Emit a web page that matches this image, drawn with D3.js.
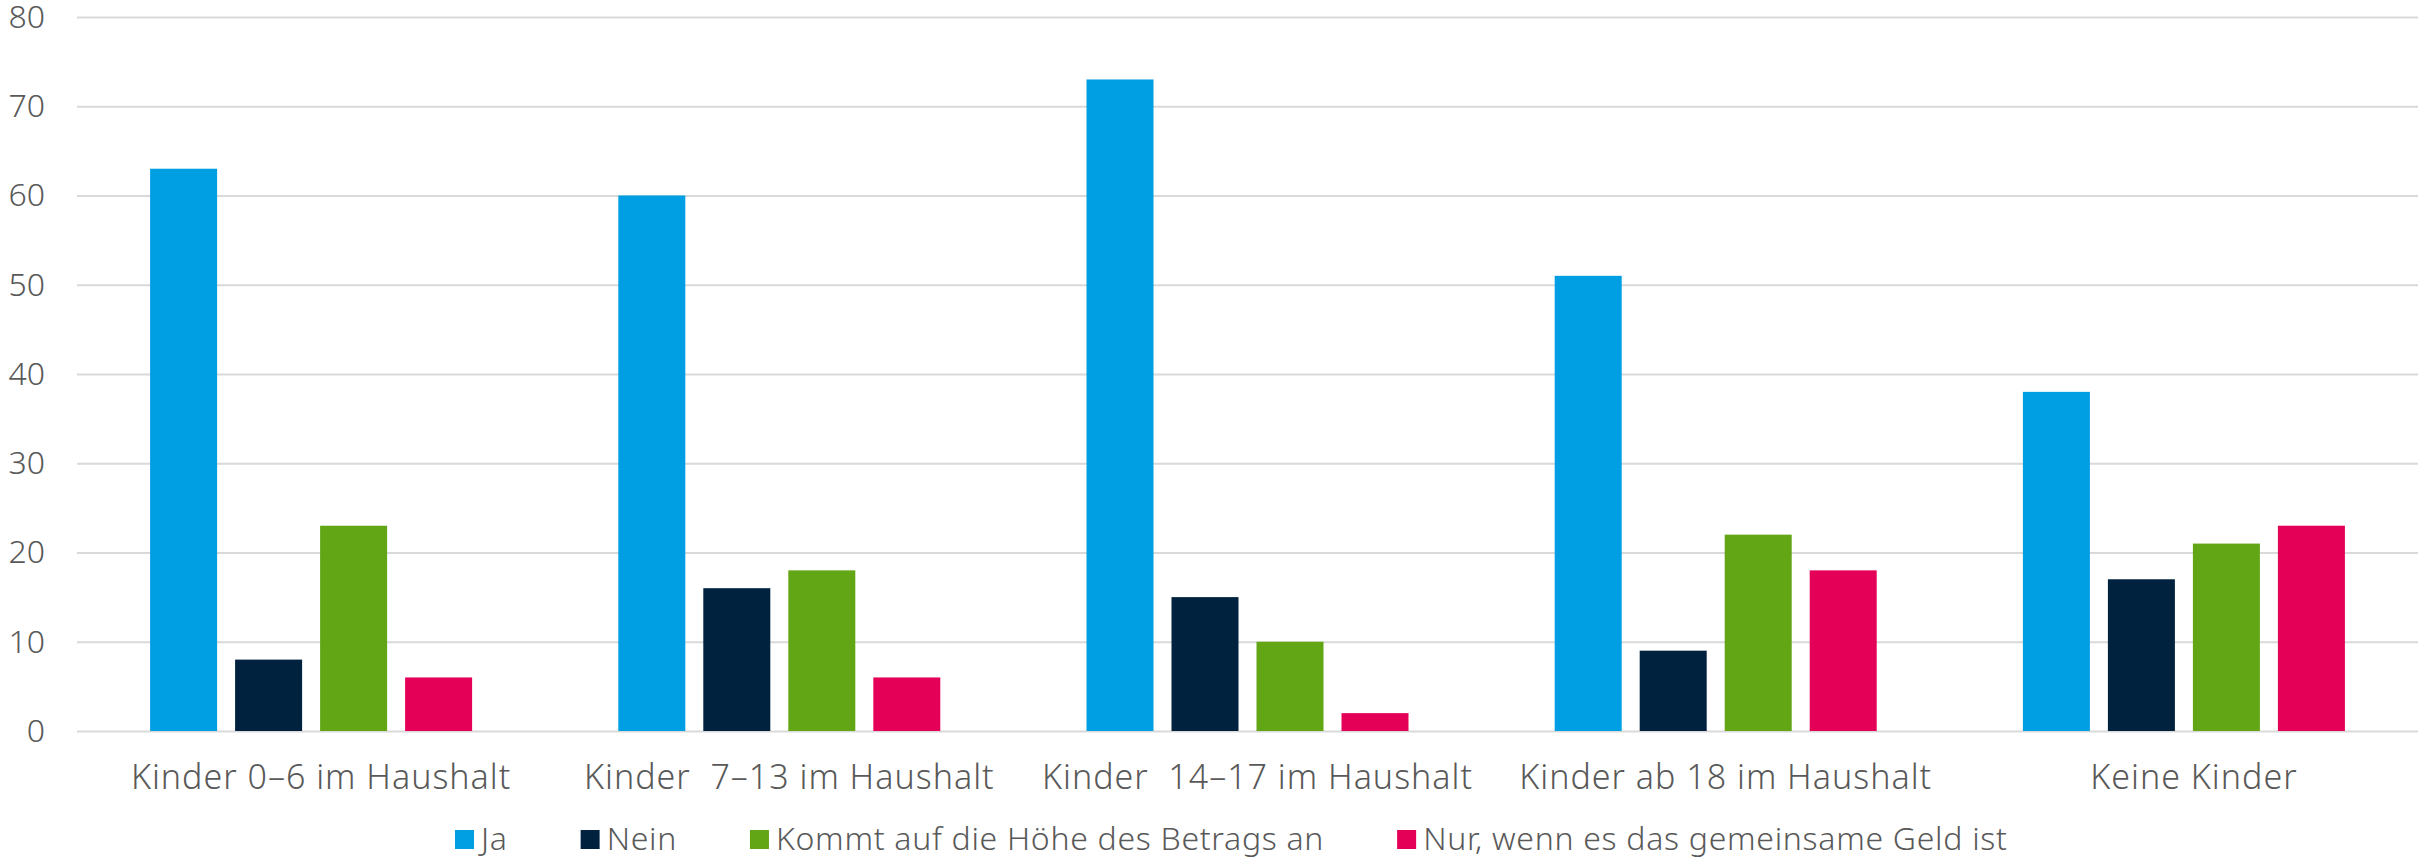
<!DOCTYPE html>
<html>
<head>
<meta charset="utf-8">
<style>
  body { margin: 0; background: #fff; }
  svg text { font-family: "Noto Sans", Lato, sans-serif; font-weight: 300; fill: #595959; }
  .grid path { display: none; }
  .grid line { stroke: #d9d9d9; stroke-width: 2; }
  .xaxis path, .xaxis line { display: none; }
</style>
</head>
<body>
<div class="chart"></div>
<script src="https://d3js.org/d3.v7.min.js"></script>
<script>
  // data
  const categories = ["Kinder 0–6 im Haushalt", "Kinder  7–13 im Haushalt", "Kinder  14–17 im Haushalt", "Kinder ab 18 im Haushalt", "Keine Kinder"];
  const series = ["Ja", "Nein", "Kommt auf die Höhe des Betrags an", "Nur, wenn es das gemeinsame Geld ist"];
  const ja = [63, 60, 73, 51, 38];
  const nein = [8, 16, 15, 9, 17];
  const kommtDrauf = [23, 18, 10, 22, 21];
  const nurGemeinsam = [6, 6, 2, 18, 23];
  const yTicks = [0, 10, 20, 30, 40, 50, 60, 70, 80];
  const colors = ["#009fe3", "#00223f", "#63a615", "#e40056"];

  const values = [ja, nein, kommtDrauf, nurGemeinsam];

  function drawChart(){
    let width = 2418,
        height = 859,
        left = 77,
        top = 17,
        bottom = 731;

    const svg = d3.select(".chart")
                  .append("svg")
                  .attr("width", width)
                  .attr("height", height);

    const y = d3.scaleLinear()
                .domain([0, 80])
                .range([bottom, top]);

    // 類別
    const x0 = d3.scaleBand()
                 .domain(categories)
                 .range([left, width]);

    const groupWidth = 322;
    const x1 = d3.scaleBand()
                 .domain(series)
                 .range([0, groupWidth])
                 .paddingInner(18 / 85);

    // 格線 + Y 軸
    const yAxis = d3.axisLeft(y)
                    .tickValues(yTicks)
                    .tickSize(-(width - left))
                    .tickPadding(32);

    svg.append("g")
       .attr("class", "grid")
       .attr("transform", `translate(${left},0)`)
       .call(yAxis)
       .selectAll("text")
       .style("font-size", "32px");

    // bars
    const groups = svg.append("g")
                      .selectAll("g")
                      .data(categories)
                      .join("g")
                      .attr("transform", d => `translate(${x0(d) + (x0.bandwidth() - groupWidth) / 2},0)`);

    groups.selectAll("rect")
          .data((d, i) => series.map((s, j) => ({ s: s, v: values[j][i], c: colors[j] })))
          .join("rect")
          .attr("x", d => x1(d.s))
          .attr("width", x1.bandwidth())
          .attr("y", d => y(d.v))
          .attr("height", d => y(0) - y(d.v))
          .attr("fill", d => d.c);

    // X 軸標籤
    const xAxis = d3.axisBottom(x0)
                    .tickSize(0)
                    .tickPadding(34);

    svg.append("g")
       .attr("class", "xaxis")
       .attr("transform", `translate(0,${bottom})`)
       .call(xAxis)
       .selectAll("text")
       .attr("x", 10)
       .style("font-size", "34px")
       .style("letter-spacing", "1px")
       .style("white-space", "pre");

    // legend
    const legend = svg.append("g")
                      .attr("transform", "translate(455,0)");
    const items = legend.selectAll("g")
                        .data(series)
                        .join("g");

    items.append("rect")
         .attr("width", 19)
         .attr("height", 19)
         .attr("y", 830)
         .attr("fill", (d, i) => colors[i]);

    items.append("text")
         .attr("x", 26)
         .attr("y", 850)
         .style("font-size", "32px")
         .style("letter-spacing", "0.7px")
         .text(d => d);

    let pos = 0;
    items.each(function(){
      const w = d3.select(this).select("text").node().getComputedTextLength();
      d3.select(this).attr("transform", `translate(${pos},0)`);
      pos += 26 + w + 73;
    });
  }

  drawChart()
</script>
</body>
</html>
